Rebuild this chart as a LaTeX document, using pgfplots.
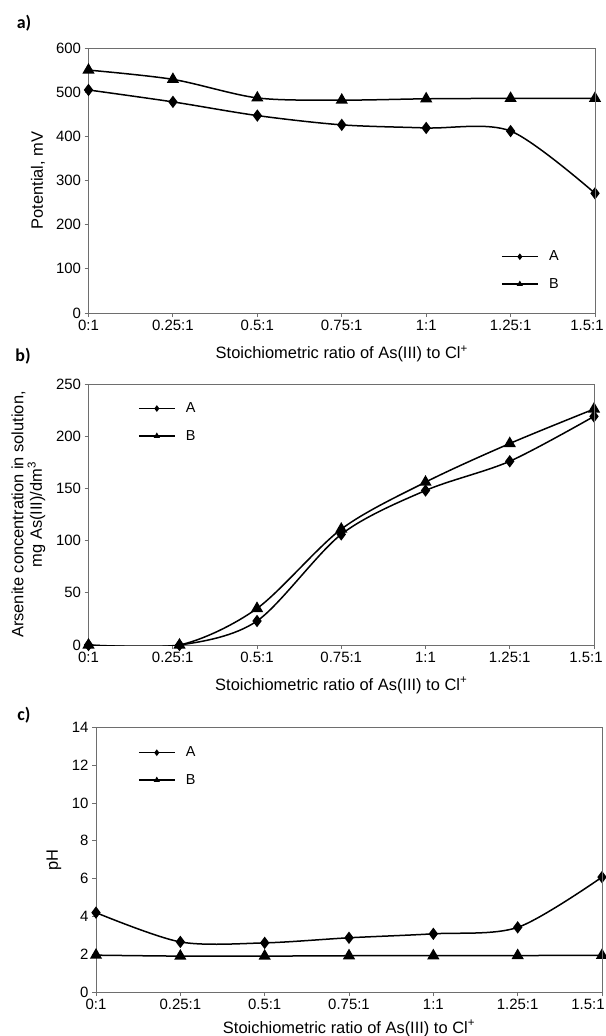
\documentclass[border=0pt]{standalone}
\usepackage{fontspec}
\setmainfont{Liberation Sans}
\newfontfamily\panelfont{Carlito}
\usepackage{pgfplots}
\pgfplotsset{compat=1.18}

\definecolor{axgray}{RGB}{110,110,110}

\pgfplotsset{
  panel/.style={
    scale only axis,
    anchor=south west,
    axis lines*=left,
    axis line style={axgray, line width=0.9bp},
    tick style={axgray, line width=0.9bp},
    tick align=outside,
    major tick length=4bp,
    xmin=0, xmax=1.5,
    xtick={0,0.25,0.5,0.75,1,1.25,1.5},
    ticklabel style={font=\fontsize{15}{17}\selectfont},
    /pgf/number format/assume math mode=true,
    label style={font=\fontsize{16.5}{18.5}\selectfont},
    xlabel={Stoichiometric ratio of As(III) to Cl\textsuperscript{+}},
    xlabel style={at={(axis description cs:0.5,-0.155)}, anchor=center},
    every axis plot/.append style={black, line width=1.5bp, smooth},
    legend cell align=left,
    legend style={draw=none, fill=none, font=\fontsize{14.5}{16}\selectfont,
      anchor=north west, row sep=13bp, nodes={inner sep=1.5bp},
      /tikz/every odd column/.append style={column sep=9bp}},
    legend image code/.code={
      \draw[mark repeat=2, mark phase=2, mark size=2.3bp, line width=1.3bp]
        plot coordinates {(0bp,0bp) (18bp,0bp) (36bp,0bp)};},
    after end axis/.code={
      \draw[axgray, line width=0.9bp] (rel axis cs:0,1) -- (rel axis cs:1,1) -- (rel axis cs:1,0);},
  },
  markA/.style={mark=diamond*, mark size=5bp, mark options={solid, fill=black}},
  markB/.style={mark=triangle*, mark size=5.6bp, mark options={solid, fill=black}},
}

\begin{document}
\begin{tikzpicture}[x=1bp,y=1bp]
\useasboundingbox (0,0) rectangle (606,-1036);

% panel a
\node[font=\panelfont\bfseries\fontsize{18}{20}\selectfont] at (24,-23) {a)};
\begin{axis}[panel,
  at={(88.5bp,-313bp)}, width=506.5bp, height=265bp,
  xticklabels={0:1,0.25:1,0.5:1,0.75:1,1:1,1.25:1,\hspace*{-16bp}1.5:1},
  ymin=0, ymax=600, ytick={0,100,200,300,400,500,600},
  ylabel={Potential, mV},
  ylabel style={at={(axis description cs:-0.1,0.5)}, anchor=center},
  legend style={at={(axis description cs:0.8085,0.248)}},
]
\addplot[markA] coordinates {(0,505)(0.25,478)(0.5,447)(0.75,426)(1,419)(1.25,412)(1.5,271)};
\addplot[markB] coordinates {(0,550)(0.25,529)(0.5,487)(0.75,482)(1,485)(1.25,486)(1.5,486)};
\legend{A,B}
\end{axis}

% panel b
\node[font=\panelfont\bfseries\fontsize{18}{20}\selectfont] at (23,-356) {b)};
\begin{axis}[panel,
  at={(88.5bp,-645bp)}, width=505.5bp, height=261bp,
  xticklabels={0:1,0.25:1,0.5:1,0.75:1,1:1,1.25:1,\hspace*{-16bp}1.5:1},
  ymin=0, ymax=250, ytick={0,50,100,150,200,250},
  ylabel={Arsenite concentration in solution,\\ mg As(III)/dm\textsuperscript{3}},
  ylabel style={at={(axis description cs:-0.119,0.5)}, anchor=center, align=center},
  legend style={at={(axis description cs:0.092,0.942)}},
]
\addplot[markA] coordinates {(0,0)(0.27,0)(0.5,23)(0.75,106)(1,148)(1.25,176)(1.5,219)};
\addplot[markB] coordinates {(0,0)(0.27,0)(0.5,35)(0.75,111)(1,156)(1.25,193)(1.5,226)};
\legend{A,B}
\end{axis}

% panel c
\node[font=\panelfont\bfseries\fontsize{18}{20}\selectfont] at (24,-715) {c)};
\begin{axis}[panel,
  at={(96bp,-992bp)}, width=506bp, height=264.6bp,
  xticklabels={0:1,0.25:1,0.5:1,0.75:1,1:1,1.25:1,\hspace*{-28bp}1.5:1},
  ymin=0, ymax=14, ytick={0,2,4,6,8,10,12,14},
  ylabel={pH},
  ylabel style={at={(axis description cs:-0.083,0.5)}, anchor=center},
  xlabel style={at={(axis description cs:0.5,-0.137)}},
  legend style={at={(axis description cs:0.077,0.94)}},
]
\addplot[markA] coordinates {(0,4.2)(0.25,2.65)(0.5,2.6)(0.75,2.87)(1,3.08)(1.25,3.42)(1.5,6.08)};
\addplot[markB] coordinates {(0,1.95)(0.25,1.9)(0.5,1.9)(0.75,1.92)(1,1.92)(1.25,1.93)(1.5,1.94)};
\legend{A,B}
\end{axis}
\end{tikzpicture}
\end{document}
